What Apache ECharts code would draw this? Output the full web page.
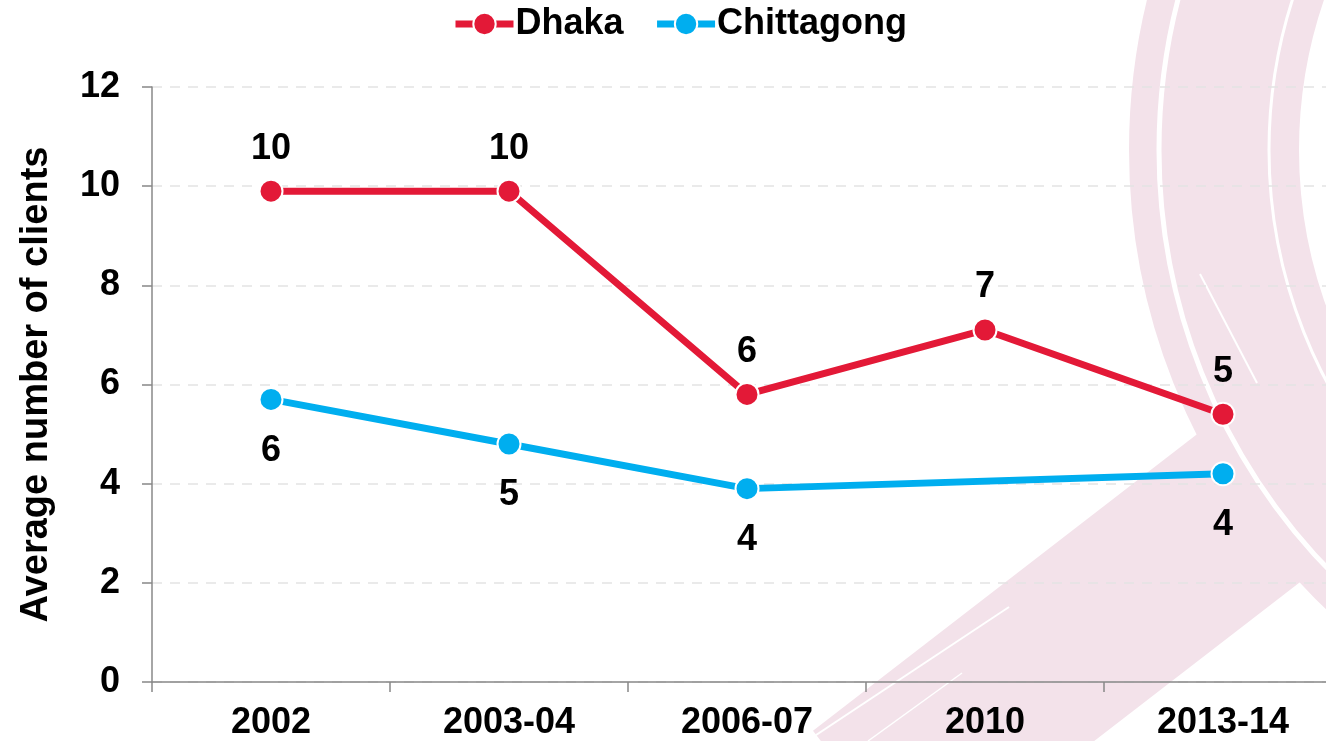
<!DOCTYPE html>
<html>
<head>
<meta charset="utf-8">
<title>Average number of clients</title>
<script src="https://cdn.jsdelivr.net/npm/echarts@6/dist/echarts.min.js"></script>
<style>
    html, body { margin: 0; padding: 0; background: #fff; overflow: hidden; }
    /* 画布比窗口宽 16px，最后一个类别带会超出右边缘（和原图一样） */
    #chart { width: 1342px; height: 741px; }
</style>
</head>
<body>
<div id="chart"></div>
<script>
// 数据
const years = ['2002', '2003-04', '2006-07', '2010', '2013-14'];
const dhaka = [9.9, 9.9, 5.8, 7.1, 5.4];
const chittagong = [5.7, 4.8, 3.9, null, 4.2]; // 2010 没有数据
const yTicks = { min: 0, max: 12, interval: 2 };

const RED = '#e31937';
const BLUE = '#00aeef';
const PINK = '#f3e2ea';
const FONT = 'Liberation Sans, Arial, sans-serif';

let chart = echarts.init(document.getElementById('chart'));

let option = {
    animation: false,
    backgroundColor: '#fff',
    textStyle: { fontFamily: FONT },
    // 背景装饰（粉色笔刷）
    graphic: [
        { type: 'circle', z: -10, silent: true, shape: { cx: 1763, cy: 150, r: 549 }, style: { fill: 'none', stroke: PINK, lineWidth: 170 } },
        { type: 'line', z: -10, silent: true, shape: { x1: 1417, y1: 378, x2: 868, y2: 802 }, style: { stroke: PINK, lineWidth: 180 } },
        { type: 'circle', z: -9, silent: true, shape: { cx: 1763, cy: 150, r: 604 }, style: { fill: 'none', stroke: '#fff', lineWidth: 5 } },
        { type: 'circle', z: -9, silent: true, shape: { cx: 1763, cy: 150, r: 494 }, style: { fill: 'none', stroke: '#fff', lineWidth: 3 } },
        { type: 'line', z: -9, silent: true, shape: { x1: 807, y1: 741, x2: 1009, y2: 607 }, style: { stroke: '#fff', lineWidth: 2 } },
        { type: 'line', z: -9, silent: true, shape: { x1: 868, y1: 741, x2: 962, y2: 673 }, style: { stroke: '#fff', lineWidth: 1.5 } },
        { type: 'line', z: -9, silent: true, shape: { x1: 1200, y1: 274, x2: 1257, y2: 383 }, style: { stroke: '#fff', lineWidth: 2 } }
    ],
    legend: {
        top: 1,
        left: 447,
        itemWidth: 58,
        itemHeight: 28,
        itemGap: 30,
        lineStyle: { width: 7 },
        textStyle: { fontSize: 36, fontWeight: 'bold', color: '#000', fontFamily: FONT, padding: [0, 0, 0, -3] },
        data: ['Dhaka', 'Chittagong']
    },
    grid: {
        left: 152,
        top: 87,
        width: 1190,
        height: 595,
        containLabel: false
    },
    xAxis: {
        type: 'category',
        data: years,
        boundaryGap: true,
        axisLine: { lineStyle: { color: '#888', width: 1.5 } },
        axisTick: { show: true, length: 10, alignWithLabel: false, lineStyle: { color: '#888', width: 1.5 } },
        axisLabel: { color: '#000', fontSize: 36, fontWeight: 'bold', margin: 23, interval: 0 }
    },
    yAxis: {
        type: 'value',
        min: yTicks.min,
        max: yTicks.max,
        interval: yTicks.interval,
        name: 'Average number of clients',
        nameLocation: 'middle',
        nameGap: 96,
        nameTextStyle: { color: '#000', fontSize: 38, fontWeight: 'bold' },
        axisLine: { show: true, lineStyle: { color: '#888', width: 1.5 } },
        axisTick: { show: true, length: 10, lineStyle: { color: '#888', width: 1.5 } },
        axisLabel: { color: '#000', fontSize: 36, fontWeight: 'bold', margin: 32 },
        splitLine: { lineStyle: { color: '#e3e3e3', type: [10, 8], width: 1.5 } }
    },
    series: [
        {
            name: 'Dhaka',
            type: 'line',
            data: dhaka,
            symbol: 'circle',
            symbolSize: 23,
            color: RED,
            lineStyle: { width: 7, color: RED },
            itemStyle: { color: RED, borderColor: '#fff', borderWidth: 2 },
            label: {
                show: true,
                position: 'top',
                distance: 12,
                color: '#000',
                fontSize: 36,
                fontWeight: 'bold',
                formatter: p => Math.round(p.value)
            },
            z: 3
        },
        {
            name: 'Chittagong',
            type: 'line',
            data: chittagong,
            connectNulls: true,
            symbol: 'circle',
            symbolSize: 23,
            color: BLUE,
            lineStyle: { width: 7, color: BLUE },
            itemStyle: { color: BLUE, borderColor: '#fff', borderWidth: 2 },
            label: {
                show: true,
                position: 'bottom',
                distance: 21,
                color: '#000',
                fontSize: 36,
                fontWeight: 'bold',
                formatter: p => Math.round(p.value)
            },
            z: 3
        }
    ]
};

chart.setOption(option);
</script>
</body>
</html>
